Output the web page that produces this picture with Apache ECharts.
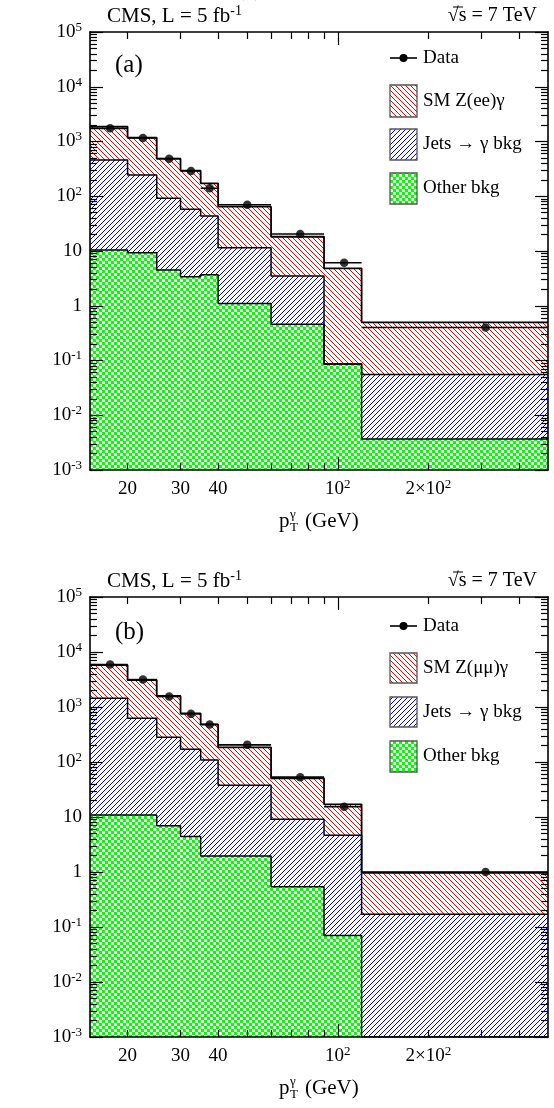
<!DOCTYPE html>
<html><head><meta charset="utf-8">
<script src="https://cdn.jsdelivr.net/npm/echarts@6/dist/echarts.min.js"></script>
<style>html,body{margin:0;padding:0;background:#fff}#c{width:554px;height:1108px}</style>
</head><body><div id="c"></div>
<script>
// ---------------- data ----------------
const binEdges   = [15, 20, 25, 30, 35, 40, 60, 90, 120, 500];
const binCenters = [17.5, 22.5, 27.5, 32.5, 37.5, 50, 75, 105, 310];

// panel (a): Z(ee)gamma
const otherBkgA = [10.4, 9.3, 4.5, 3.4, 3.7, 1.1, 0.46, 0.086, 0.0037];
const jetsBkgA  = [449, 235, 87.5, 54.6, 39.8, 10.4, 3.04, 0, 0.052];
const smZeeA    = [1407, 931, 393, 235, 128.5, 53, 14.7, 4.74, 0.44];
const dataA     = [1740, 1160, 485, 290, 140, 70, 20.4, 6.1, 0.40];

// panel (b): Z(mumu)gamma
const otherBkgB = [10.9, 10.9, 6.9, 4.4, 1.95, 1.95, 0.54, 0.07, 0];
const jetsBkgB  = [1429, 611, 274, 166, 107, 36, 8.6, 4.6, 0.17];
const smZmmB    = [4360, 2478, 1304, 598, 375, 147, 41.5, 12.3, 0.80];
const dataB     = [5900, 3150, 1550, 750, 480, 205, 53, 15.4, 1.0];

// axis ticks / labels
const xLabelValues = [20, 30, 40, 100, 200];
const xTickLabels  = ['20', '30', '40', '10{s|2}', '2×10{s|2}'];
const xMajorTicks  = [100];
const xMinorTicks  = [20, 30, 40, 50, 60, 70, 80, 90, 200, 300, 400];
const yMajorTicks  = [1e-3, 1e-2, 1e-1, 1, 10, 1e2, 1e3, 1e4, 1e5];
const yTickLabels  = ['10{s|-3}', '10{s|-2}', '10{s|-1}', '1', '10', '10{s|2}', '10{s|3}', '10{s|4}', '10{s|5}'];
const yMinorTicks  = [];
for (let e = -3; e < 5; e++) for (let m = 2; m <= 9; m++) yMinorTicks.push(m * Math.pow(10, e));

const X_MIN = 15, X_MAX = 500, Y_MIN = 1e-3, Y_MAX = 1e5;
const FONT = "'Liberation Serif','DejaVu Serif',serif";

// ---------------- patterns ----------------
function hatch(color, slash) {
  const s = 5, c = document.createElement('canvas');
  c.width = c.height = s;
  const g = c.getContext('2d');
  g.fillStyle = '#fff'; g.fillRect(0, 0, s, s);
  g.fillStyle = color;
  for (let i = 0; i < s; i++) g.fillRect(slash ? s - 1 - i : i, i, 1, 1);
  return { image: c, repeat: 'repeat' };
}
function checker() {
  const c = document.createElement('canvas');
  c.width = c.height = 6;
  const g = c.getContext('2d');
  g.fillStyle = '#fff'; g.fillRect(0, 0, 6, 6);
  g.fillStyle = '#00ff00'; g.fillRect(0, 0, 3, 3); g.fillRect(3, 3, 3, 3);
  return { image: c, repeat: 'repeat' };
}
const RED = hatch('#ff0000', false);
const BLUE = hatch('#0000ff', true);
const GREEN = checker();

// ---------------- helpers ----------------
const richSup = {
  b: { fontSize: 19, fontFamily: FONT, color: '#000', lineHeight: 22 },
  s: { fontSize: 13, fontFamily: FONT, color: '#000', verticalAlign: 'top', lineHeight: 13 }
};
function nearestIdx(arr, v) {
  let best = 0, bd = Infinity;
  arr.forEach((a, i) => { const d = Math.abs(Math.log10(a) - Math.log10(v)); if (d < bd) { bd = d; best = i; } });
  return best;
}
function wrapB(t) { return t.split(/(\{s\|[^}]*\})/).filter(x => x).map(x => x.startsWith('{s|') ? x : '{b|' + x + '}').join(''); }
const fmtX = v => wrapB(xTickLabels[nearestIdx(xLabelValues, v)]);
const fmtY = v => wrapB(yTickLabels[nearestIdx(yMajorTicks, v)]);

function xAx(gi, pos, ticks, len, showLine, labels) {
  return {
    type: 'log', logBase: 10, gridIndex: gi, min: X_MIN, max: X_MAX, position: pos, z: 10,
    axisLine: { show: showLine, onZero: false, lineStyle: { color: '#000', width: 1.6 } },
    axisTick: { show: true, inside: true, length: len, customValues: ticks, lineStyle: { color: '#000', width: 1.2 } },
    axisLabel: labels ? { show: true, customValues: xLabelValues, margin: 8, formatter: fmtX, rich: richSup, color: '#000' } : { show: false },
    splitLine: { show: false }, minorTick: { show: false }, minorSplitLine: { show: false }
  };
}
function yAx(gi, pos, ticks, len, showLine, labels) {
  return {
    type: 'log', logBase: 10, gridIndex: gi, min: Y_MIN, max: Y_MAX, position: pos, z: 10,
    axisLine: { show: showLine, onZero: false, lineStyle: { color: '#000', width: 1.6 } },
    axisTick: { show: true, inside: true, length: len, customValues: ticks, lineStyle: { color: '#000', width: 1.2 } },
    axisLabel: labels ? { show: true, customValues: yMajorTicks, margin: 8, formatter: fmtY, rich: richSup, color: '#000', align: 'right' } : { show: false },
    splitLine: { show: false }, minorTick: { show: false }, minorSplitLine: { show: false }
  };
}

function band(gi, lo, hi, fill) {
  return {
    type: 'custom', xAxisIndex: gi * 4, yAxisIndex: gi * 4, z: 2, silent: true, clip: true,
    data: hi.map((h, i) => [binEdges[i], binEdges[i + 1], Math.max(lo[i], Y_MIN), Math.max(h, Y_MIN)]),
    encode: { x: [0, 1], y: [2, 3] },
    renderItem: (p, api) => {
      if (api.value(3) <= api.value(2)) return null;
      const a = api.coord([api.value(0), api.value(3)]);
      const b = api.coord([api.value(1), api.value(2)]);
      return { type: 'rect', shape: { x: a[0], y: a[1], width: b[0] - a[0], height: b[1] - a[1] }, style: { fill: fill, stroke: null } };
    }
  };
}
function stepLine(gi, vals, w) {
  return {
    type: 'line', xAxisIndex: gi * 4, yAxisIndex: gi * 4, z: 4, step: 'end', symbol: 'none', silent: true,
    data: binEdges.map((e, i) => [e, Math.max(vals[Math.min(i, vals.length - 1)], Y_MIN)]),
    lineStyle: { color: '#000', width: w }
  };
}
function dataBars(gi, vals) {
  return {
    type: 'custom', xAxisIndex: gi * 4, yAxisIndex: gi * 4, z: 5, silent: true,
    data: vals.map((v, i) => [binEdges[i], binEdges[i + 1], v]),
    encode: { x: [0, 1], y: 2 },
    renderItem: (p, api) => {
      const a = api.coord([api.value(0), api.value(2)]);
      const b = api.coord([api.value(1), api.value(2)]);
      return { type: 'line', shape: { x1: a[0], y1: a[1], x2: b[0], y2: b[1] }, style: { stroke: '#000', lineWidth: 1.6 } };
    }
  };
}
function dataPts(gi, vals) {
  return {
    type: 'scatter', xAxisIndex: gi * 4, yAxisIndex: gi * 4, z: 6, silent: true,
    symbol: 'circle', symbolSize: 8.5, itemStyle: { color: '#000' },
    data: vals.map((v, i) => [binCenters[i], v])
  };
}

function panelSeries(gi, other, jets, sm, data) {
  const g = other.map(v => Math.max(v, 0));
  const j = g.map((v, i) => v + jets[i]);
  const t = j.map((v, i) => v + sm[i]);
  const zero = g.map(() => Y_MIN);
  return [
    band(gi, zero, g, GREEN), band(gi, g, j, BLUE), band(gi, j, t, RED),
    stepLine(gi, g, 1.5), stepLine(gi, j, 1.5), stepLine(gi, t, 1.8),
    dataBars(gi, data), dataPts(gi, data)
  ];
}

// ---------------- graphics (titles, legends) ----------------
function txt(x, y, text, size, align, extra) {
  return Object.assign({ type: 'text', z: 20, silent: true, style: {
    text: text, x: x, y: y, fontSize: size, fontFamily: FONT, fill: '#000',
    align: align || 'left', verticalAlign: 'middle',
    rich: { s: { fontSize: Math.round(size * 0.65), fontFamily: FONT, fill: '#000', verticalAlign: 'top', lineHeight: Math.round(size * 0.65) },
            n: { fontSize: size, fontFamily: FONT, fill: '#000', lineHeight: size + 3 } }
  } }, extra || {});
}
function legendBox(y0, y1, fill) {
  return { type: 'rect', z: 20, silent: true, shape: { x: 390, y: y0, width: 27, height: y1 - y0 }, style: { fill: fill, stroke: '#555', lineWidth: 1.3 } };
}
function panelGraphics(top, bottom, tag, smLabel, L) {
  const mid = (top + bottom) / 2;
  return [
    txt(107, top - 16, '{n|CMS, L = 5 fb}{s|-1}', 21, 'left'),
    txt(537, top - 16, '√s = 7 TeV', 20, 'right'),
    { type: 'line', z: 20, silent: true, shape: { x1: 453, y1: top - 25, x2: 463, y2: top - 25 }, style: { stroke: '#000', lineWidth: 1 } },
    txt(115, top + 33 + L.dy, tag, 25, 'left'),
    txt(25, mid, 'Events', 19, 'center', { rotation: Math.PI / 2, x: 0, y: 0 }),
    // x axis title
    txt(279, bottom + 51, 'p', 21, 'left'),
    txt(290, bottom + 45, 'γ', 13, 'left'),
    txt(290, bottom + 58, 'T', 13, 'left'),
    txt(305, bottom + 51, '(GeV)', 21, 'left'),
    // legend
    { type: 'line', z: 20, silent: true, shape: { x1: 390, y1: L.data, x2: 417, y2: L.data }, style: { stroke: '#000', lineWidth: 1.6 } },
    { type: 'circle', z: 21, silent: true, shape: { cx: 403.5, cy: L.data, r: 4 }, style: { fill: '#000' } },
    txt(423, L.data, 'Data', 19, 'left'),
    legendBox(L.sm[0], L.sm[1], RED), txt(423, (L.sm[0] + L.sm[1]) / 2, smLabel, 19, 'left'),
    legendBox(L.jets[0], L.jets[1], BLUE), txt(423, (L.jets[0] + L.jets[1]) / 2, 'Jets → γ bkg', 19, 'left'),
    legendBox(L.other[0], L.other[1], GREEN), txt(423, (L.other[0] + L.other[1]) / 2, 'Other bkg', 19, 'left')
  ];
}

// ---------------- chart ----------------
const grids = [
  { left: 90, top: 32, width: 458, height: 438 },
  { left: 90, top: 597, width: 458, height: 440 }
];
const xAxes = [], yAxes = [];
[0, 1].forEach(gi => {
  xAxes.push(xAx(gi, 'bottom', xMajorTicks, 13, true, true), xAx(gi, 'bottom', xMinorTicks, 7, false, false),
             xAx(gi, 'top', xMajorTicks, 13, true, false), xAx(gi, 'top', xMinorTicks, 7, false, false));
  yAxes.push(yAx(gi, 'left', yMajorTicks, 13, true, true), yAx(gi, 'left', yMinorTicks, 7, false, false),
             yAx(gi, 'right', yMajorTicks, 13, true, false), yAx(gi, 'right', yMinorTicks, 7, false, false));
});

const chart = echarts.init(document.getElementById('c'), null, { renderer: 'canvas' });
chart.setOption({
  animation: false,
  backgroundColor: '#fff',
  textStyle: { fontFamily: FONT },
  grid: grids.map(g => Object.assign({ outerBoundsMode: 'none', containLabel: false }, g)),
  xAxis: xAxes,
  yAxis: yAxes,
  series: [].concat(
    panelSeries(0, otherBkgA, jetsBkgA, smZeeA, dataA),
    panelSeries(1, otherBkgB, jetsBkgB, smZmmB, dataB)
  ),
  graphic: [].concat(
    panelGraphics(32, 470, '(a)', 'SM Z(ee)γ', { dy: 0, data: 58, sm: [85, 117], jets: [129, 160], other: [173, 204] }),
    panelGraphics(597, 1037, '(b)', 'SM Z(μμ)γ', { dy: 2, data: 626, sm: [653, 683], jets: [697, 727], other: [741, 772] })
  )
});
</script>
</body></html>
